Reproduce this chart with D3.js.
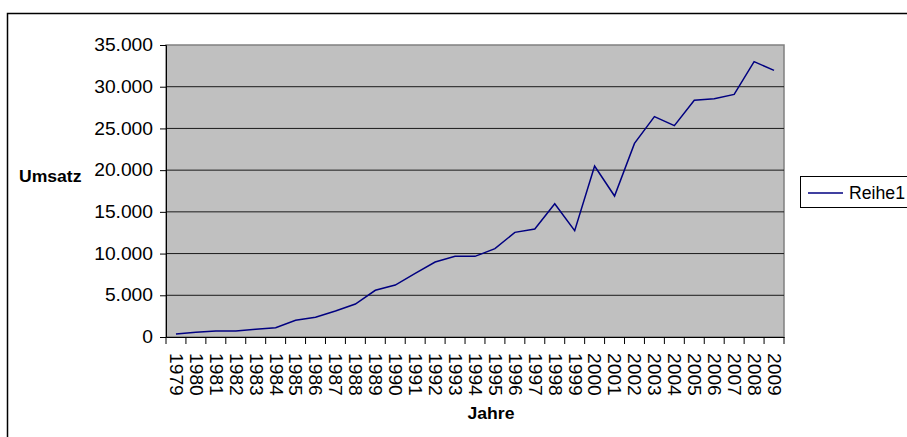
<!DOCTYPE html>
<html>
<head>
<meta charset="utf-8">
<script src="https://cdn.jsdelivr.net/npm/d3@7"></script>
<style>
  body { margin: 0; background: #fff; }
  text { font-family: "Liberation Sans", Arial, sans-serif; }
</style>
</head>
<body>
<div id="chart-area"></div>
<script>
// Umsatz per year
const years = ["1979","1980","1981","1982","1983","1984","1985","1986","1987","1988",
               "1989","1990","1991","1992","1993","1994","1995","1996","1997","1998",
               "1999","2000","2001","2002","2003","2004","2005","2006","2007","2008","2009"];
const umsatz = [350, 560, 720, 720, 920, 1100, 2000, 2360, 3120, 3950,
                5600, 6230, 7630, 8990, 9670, 9670, 10590, 12540, 12940, 15980,
                12740, 20500, 16900, 23210, 26410, 25330, 28370, 28570, 29080, 33000, 31960];
const yTicks = [0, 5000, 10000, 15000, 20000, 25000, 30000, 35000];
const seriesName = "Reihe1";

const data = years.map((y, i) => ({year: y, value: umsatz[i]}));

const margin = {left: 166, top: 45};
const width = 618;
const height = 292;
const stretch = 1.1;

const svg = d3.select("#chart-area")
    .append("svg")
        .attr("width", 907)
        .attr("height", 437);

// outer chart border (runs off the window)
svg.append("rect")
    .attr("x", 7.5).attr("y", 13.5)
    .attr("width", 920).attr("height", 450)
    .attr("fill", "none")
    .attr("stroke", "#000")
    .attr("stroke-width", 1.5);

const x = d3.scaleBand().domain(years).range([0, width]).padding(0);
const y = d3.scaleLinear().domain([0, 35000]).range([height, 0]);

const g = svg.append("g")
    .attr("transform", "translate(" + margin.left + ", " + margin.top + ")");

// plot area
g.append("rect")
    .attr("width", width).attr("height", height)
    .attr("fill", "#c0c0c0")
    .attr("stroke", "#808080")
    .attr("stroke-width", 1.5);

// gridlines
g.selectAll(".grid").data(yTicks.filter(d => d > 0 && d < 35000)).enter()
    .append("line")
        .attr("class", "grid")
        .attr("x1", 0).attr("x2", width)
        .attr("y1", d => y(d)).attr("y2", d => y(d))
        .attr("stroke", "#1a1a1a")
        .attr("stroke-width", 1);

// y axis
const yAxis = g.append("g")
    .call(d3.axisLeft(y).tickValues(yTicks).tickSize(6).tickPadding(7)
        .tickFormat(d => d3.format(",")(d).replace(/,/g, ".")));
yAxis.select(".domain").attr("stroke", "#000");
yAxis.selectAll("text")
    .attr("font-size", "17.5px")
    .attr("fill", "#000")
    .attr("x", -13 / stretch)
    .attr("transform", "scale(" + stretch + ",1)");

// x axis: labels at category centers, ticks on the boundaries
const xAxis = g.append("g")
    .attr("transform", "translate(0, " + height + ")")
    .call(d3.axisBottom(x).tickSize(0).tickPadding(0));
xAxis.select(".domain").attr("stroke", "#000");
xAxis.selectAll("text")
    .attr("font-size", "17.5px")
    .attr("fill", "#000")
    .attr("text-anchor", "start")
    .attr("x", 16 / stretch)
    .attr("y", 0)
    .attr("dy", "0.35em")
    .attr("transform", "rotate(90) scale(" + stretch + ",1)");

const bounds = years.map(d => x(d)).concat([width]);
xAxis.selectAll(".bound").data(bounds).enter()
    .append("line")
        .attr("class", "bound")
        .attr("x1", d => d).attr("x2", d => d)
        .attr("y1", 0).attr("y2", 7)
        .attr("stroke", "#000");

// series line
const line = d3.line()
    .x(d => x(d.year) + x.bandwidth() / 2)
    .y(d => y(d.value));

g.append("path")
    .datum(data)
    .attr("fill", "none")
    .attr("stroke", "#000080")
    .attr("stroke-width", 1.5)
    .attr("d", line);

// axis titles
svg.append("text")
    .attr("transform", "translate(19, 182) scale(" + stretch + ",1)")
    .attr("font-size", "16px")
    .attr("font-weight", "bold")
    .text("Umsatz");

svg.append("text")
    .attr("transform", "translate(" + (margin.left + width / 2 + 16) + ", 419) scale(" + stretch + ",1)")
    .attr("text-anchor", "middle")
    .attr("font-size", "16px")
    .attr("font-weight", "bold")
    .text("Jahre");

// legend
const legend = svg.append("g").attr("transform", "translate(800, 176)");
legend.append("rect")
    .attr("x", 0.5).attr("y", 0.5)
    .attr("width", 120).attr("height", 31)
    .attr("fill", "#fff")
    .attr("stroke", "#000");
legend.append("line")
    .attr("x1", 8).attr("x2", 43)
    .attr("y1", 17).attr("y2", 17)
    .attr("stroke", "#000080")
    .attr("stroke-width", 1.5);
legend.append("text")
    .attr("x", 49).attr("y", 23)
    .attr("font-size", "17.5px")
    .attr("textLength", 56)
    .attr("lengthAdjust", "spacingAndGlyphs")
    .text(seriesName);
</script>
</body>
</html>
